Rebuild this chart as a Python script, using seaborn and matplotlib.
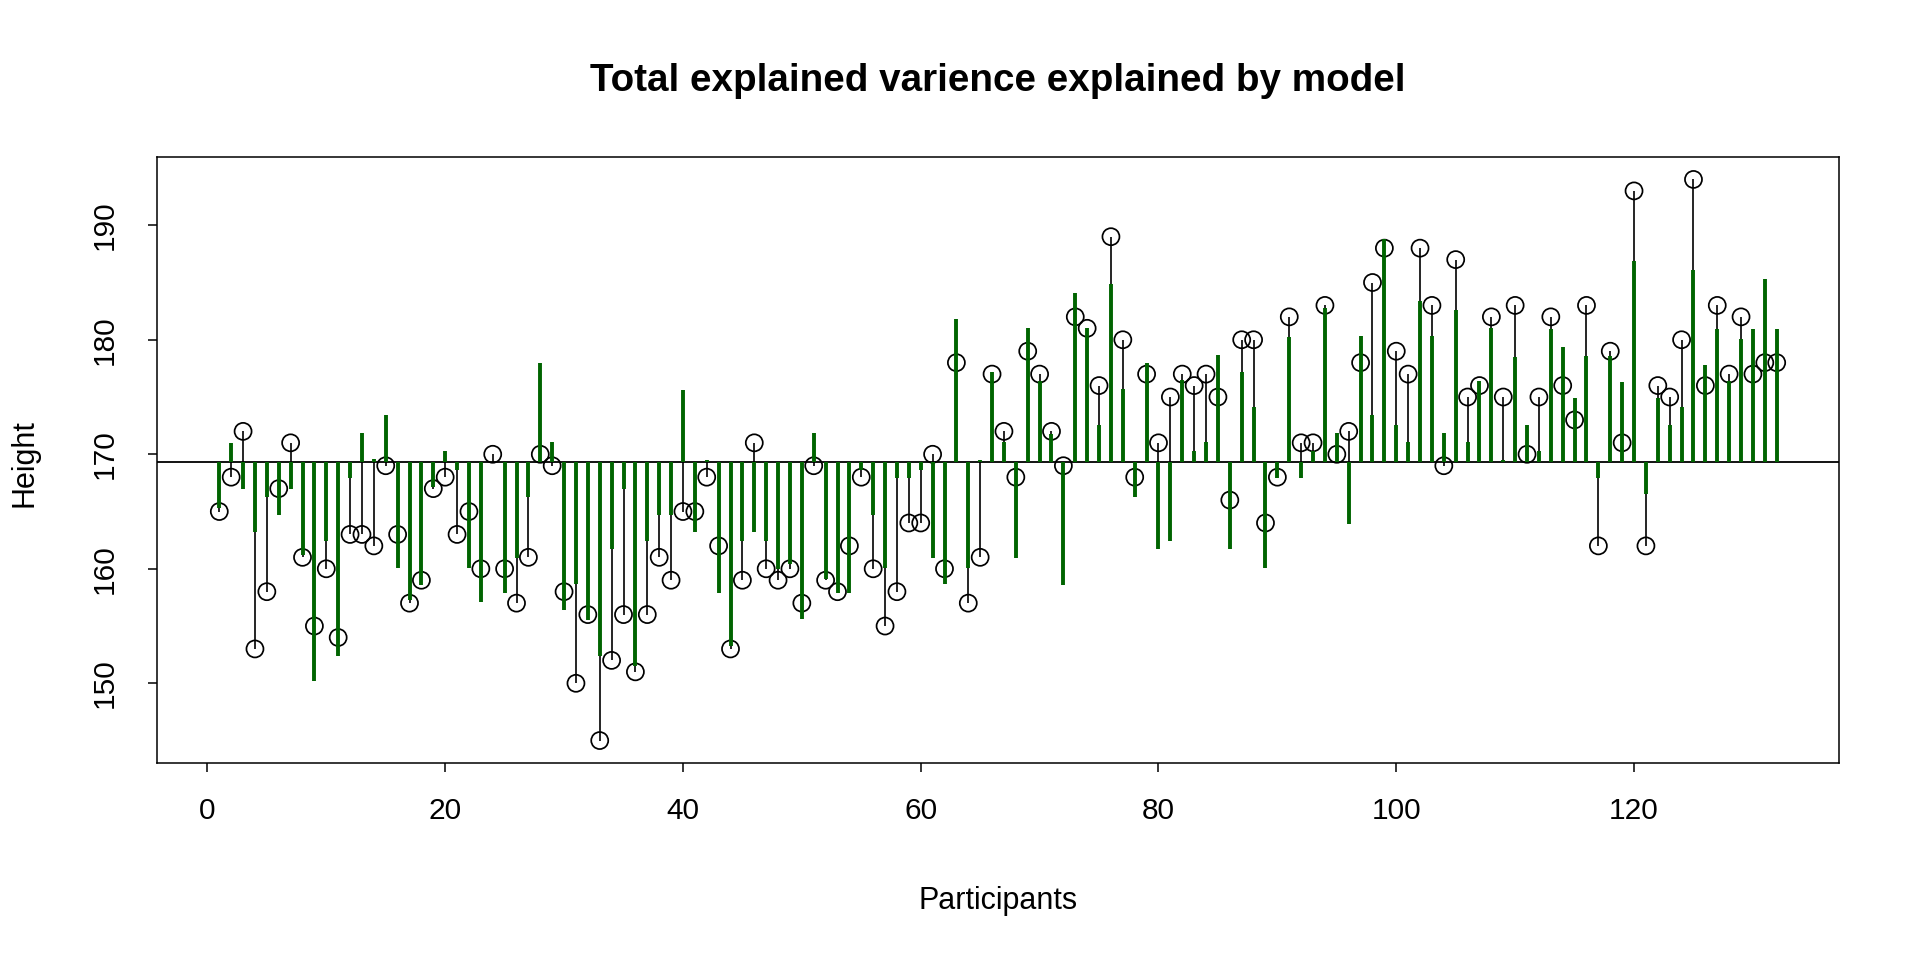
import numpy as np
import pandas as pd
import matplotlib
matplotlib.use("Agg")
import matplotlib.pyplot as plt
import seaborn as sns

participants = list(range(1, 133))
height = [165, 168, 172, 153, 158, 167, 171, 161, 155, 160,
          154, 163, 163, 162, 169, 163, 157, 159, 167, 168,
          163, 165, 160, 170, 160, 157, 161, 170, 169, 158,
          150, 156, 145, 152, 156, 151, 156, 161, 159, 165,
          165, 168, 162, 153, 159, 171, 160, 159, 160, 157,
          169, 159, 158, 162, 168, 160, 155, 158, 164, 164,
          170, 160, 178, 157, 161, 177, 172, 168, 179, 177,
          172, 169, 182, 181, 176, 189, 180, 168, 177, 171,
          175, 177, 176, 177, 175, 166, 180, 180, 164, 168,
          182, 171, 171, 183, 170, 172, 178, 185, 188, 179,
          177, 188, 183, 169, 187, 175, 176, 182, 175, 183,
          170, 175, 182, 176, 173, 183, 162, 179, 171, 193,
          162, 176, 175, 180, 194, 176, 183, 177, 182, 177,
          178, 178]
fitted = [165.3, 171.0, 167.0, 163.2, 166.3, 164.7, 167.0, 161.2, 150.2, 162.4,
          152.4, 167.9, 171.9, 169.6, 173.4, 160.1, 157.3, 158.6, 167.1, 170.3,
          168.6, 160.1, 157.1, 169.3, 157.9, 160.9, 166.3, 178.0, 171.1, 156.4,
          158.7, 155.5, 152.4, 161.7, 167.0, 151.5, 162.4, 164.7, 164.7, 175.6,
          163.2, 169.5, 157.9, 153.3, 162.4, 163.2, 162.4, 160.0, 160.4, 155.6,
          171.9, 159.1, 157.9, 157.9, 168.6, 164.7, 160.1, 167.9, 167.9, 168.6,
          160.9, 158.7, 181.8, 160.1, 169.5, 177.2, 171.1, 160.9, 181.0, 176.4,
          171.8, 158.6, 184.1, 181.0, 172.6, 184.9, 175.7, 166.3, 178.0, 161.7,
          162.4, 176.5, 170.3, 171.1, 178.7, 161.7, 177.2, 174.1, 160.1, 167.9,
          180.2, 167.9, 170.3, 182.8, 171.9, 163.9, 180.3, 173.4, 188.8, 172.6,
          171.1, 183.4, 180.3, 171.9, 182.6, 171.1, 176.4, 181.0, 169.5, 178.5,
          172.6, 170.3, 180.9, 179.4, 174.9, 178.6, 167.9, 178.6, 176.3, 186.9,
          166.5, 174.9, 172.6, 174.1, 186.1, 177.8, 180.9, 176.4, 180.1, 180.9,
          185.3, 180.9]
x_ticks = [0, 20, 40, 60, 80, 100, 120]
y_ticks = [150, 160, 170, 180, 190]
title_text = "Total explained varience explained by model"
xlabel_text = "Participants"
ylabel_text = "Height"

sns.set_theme(style="white")
plt.rcParams['font.family'] = ['Liberation Sans', 'DejaVu Sans']

df = pd.DataFrame({"participant": participants, "height": height, "fitted": fitted})
mean_h = df["height"].mean()

W, H = 1920, 960
fig = plt.figure(figsize=(19.2, 9.6), dpi=100)
L, R, T, B = 157, 1839, 157, 763
ax = fig.add_axes([L / W, 1 - B / H, (R - L) / W, (B - T) / H])

ax.axhline(mean_h, color="black", lw=1.3, zorder=1)
ax.vlines(df["participant"], mean_h, df["height"], color="black", lw=1.2, zorder=2)
sns.scatterplot(data=df, x="participant", y="height", ax=ax, marker="o",
                facecolor="none", edgecolor="black", linewidth=1.25, s=150,
                zorder=3, legend=False)
ax.vlines(df["participant"], mean_h, df["fitted"], color="#006400", lw=2.8, zorder=4)

n = len(participants)
span_x = n - 1
ax.set_xlim(1 - 0.04 * span_x, n + 0.04 * span_x)
ymin, ymax = min(height), max(height)
span_y = ymax - ymin
ax.set_ylim(ymin - 0.04 * span_y, ymax + 0.04 * span_y)

ax.set_xticks(x_ticks)
ax.set_yticks(y_ticks)
ax.set_xlabel("")
ax.set_ylabel("")
for s in ax.spines.values():
    s.set_color("black")
    s.set_linewidth(1.1)
    s.set_visible(True)
ax.tick_params(axis="both", which="major", direction="out", length=6.5, width=1.1,
               color="black", labelsize=21.5, labelcolor="black",
               bottom=True, left=True, top=False, right=False)
ax.tick_params(axis="x", pad=18)
ax.tick_params(axis="y", pad=21)
plt.setp(ax.get_yticklabels(), rotation=90, va="center")

cx = (L + R) / 2 / W
fig.text(cx, 1 - 81 / H, title_text, ha="center", va="center", fontsize=27.8,
         fontweight="bold", color="black")
fig.text(cx, 1 - 901 / H, xlabel_text, ha="center", va="center", fontsize=22, color="black")
fig.text(25 / W, 1 - 463 / H, ylabel_text, ha="center", va="center", rotation=90,
         fontsize=22, color="black")

fig.savefig("out.png", dpi=100, facecolor="white")
